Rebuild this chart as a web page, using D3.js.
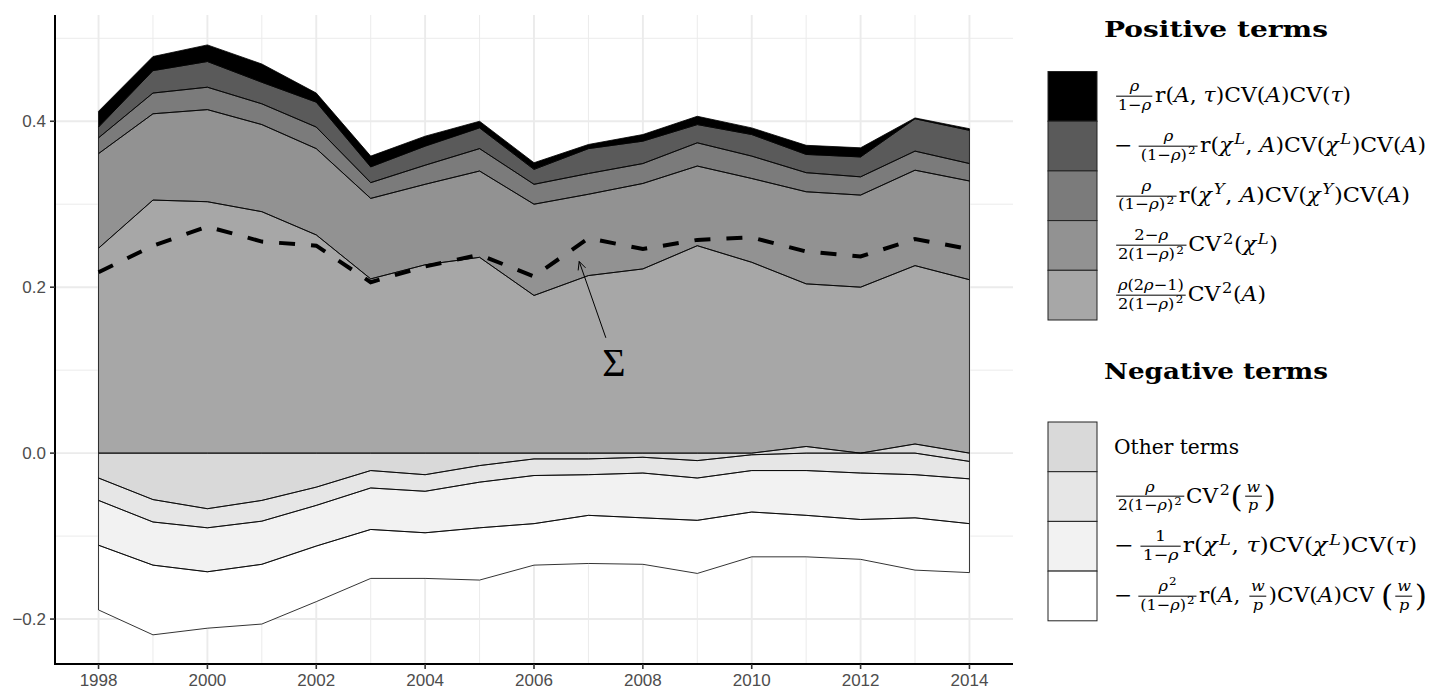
<!DOCTYPE html>
<html>
<head>
<meta charset="utf-8">
<script src="https://cdn.jsdelivr.net/npm/d3@7"></script>
<style>
  body { margin: 0; background: #fff; }
  #wrap { position: relative; width: 1430px; height: 690px; overflow: hidden; background: #fff; }
  #wrap svg { position: absolute; left: 0; top: 0; }
  .lab {
    position: absolute; white-space: nowrap; color: #000;
    font-family: "DejaVu Serif", serif; font-size: 20.5px;
    line-height: 1; transform-origin: 0 50%;
  }
  .lab i { font-style: italic; }
  .fr {
    display: inline-flex; flex-direction: column; align-items: stretch; text-align: center;
    vertical-align: middle; font-size: 0.74em; margin: 0 0.14em;
  }
  .fr .nu { border-bottom: 1px solid #000; padding: 0 0.1em 0.06em; line-height: 1.05; }
  .fr .de { padding: 0.06em 0.1em 0; line-height: 1.05; }
  .lab sup { font-size: 0.74em; vertical-align: 0.5em; line-height: 0; margin-left: 0.1em; margin-right: 0.04em; }
  .bp { font-size: 1.45em; vertical-align: -0.14em; line-height: 0; }
  .mn { margin-right: 0.2em; }
</style>
</head>
<body>
<div id="wrap"></div>
<script>
// ---- data -------------------------------------------------------------
const years = [1998, 1999, 2000, 2001, 2002, 2003, 2004, 2005, 2006,
               2007, 2008, 2009, 2010, 2011, 2012, 2013, 2014];

// positive terms
const rATau  = [0.019, 0.017, 0.020, 0.022, 0.011, 0.013, 0.012, 0.008, 0.008,
                0.005, 0.008, 0.010, 0.008, 0.011, 0.011, 0.001, 0.002];
const rChiLA = [0.013, 0.027, 0.031, 0.026, 0.030, 0.019, 0.023, 0.025, 0.018,
                0.030, 0.027, 0.022, 0.026, 0.022, 0.024, 0.039, 0.040];
const rChiYA = [0.019, 0.025, 0.027, 0.025, 0.026, 0.019, 0.023, 0.027, 0.024,
                0.025, 0.024, 0.028, 0.027, 0.023, 0.022, 0.023, 0.021];
const cvChiL = [0.114, 0.104, 0.111, 0.105, 0.104, 0.097, 0.097, 0.104, 0.110,
                0.098, 0.103, 0.096, 0.101, 0.111, 0.111, 0.115, 0.119];
const cvA    = [0.247, 0.305, 0.303, 0.291, 0.263, 0.210, 0.227, 0.236, 0.190,
                0.214, 0.222, 0.250, 0.230, 0.196, 0.200, 0.215, 0.209];

// negative terms
const other    = [-0.030, -0.056, -0.067, -0.057, -0.041, -0.021, -0.026, -0.015, -0.007,
                  -0.007, -0.005, -0.009, -0.002, 0.008, 0.000, 0.011, -0.010];
const cvW      = [-0.027, -0.027, -0.023, -0.025, -0.022, -0.021, -0.020, -0.020, -0.020,
                  -0.019, -0.019, -0.021, -0.019, -0.021, -0.024, -0.026, -0.021];
const rChiLTau = [-0.054, -0.052, -0.053, -0.052, -0.049, -0.050, -0.050, -0.055, -0.058,
                  -0.049, -0.054, -0.051, -0.050, -0.054, -0.056, -0.052, -0.054];
const rAW      = [-0.078, -0.084, -0.068, -0.072, -0.067, -0.059, -0.055, -0.063, -0.050,
                  -0.058, -0.056, -0.064, -0.054, -0.050, -0.048, -0.063, -0.059];

// total (dashed line)
const sigma = [0.218, 0.250, 0.273, 0.255, 0.250, 0.206, 0.225, 0.239, 0.213,
               0.259, 0.246, 0.257, 0.260, 0.243, 0.237, 0.258, 0.246];

// axes
const xTicks = [1998, 2000, 2002, 2004, 2006, 2008, 2010, 2012, 2014];
const xMinor = [1999, 2001, 2003, 2005, 2007, 2009, 2011, 2013];
const yTicks = [-0.2, 0.0, 0.2, 0.4];
const yMinor = [-0.1, 0.1, 0.3, 0.5];
const yTickLabels = ["\u22120.2", "0.0", "0.2", "0.4"];

// annotation: Σ label and its arrow (data units)
const sigmaLabel = { year: 2007.47, value: 0.109 };
const sigmaArrow = { fromYear: 2007.32, fromValue: 0.139, toYear: 2006.83, toValue: 0.231 };

// ---- legend labels ----------------------------------------------------
const F = (n, d) => `<span class="fr"><span class="nu">${n}</span><span class="de">${d}</span></span>`;
const I = s => `<i>${s}</i>`;
const S = s => `<sup>${s}</sup>`;
const rho = I("ρ"), tau = I("τ"), A = I("A");
const chiL = I("χ") + S(I("L")), chiY = I("χ") + S(I("Y"));
const wp = F(I("w"), I("p"));
const oneMinusRho = `1−${rho}`, oneMinusRhoSq = `(1−${rho})${S("2")}`;
const minus = `<span class="mn">−</span>`;

const posKeys = ["rATau", "rChiLA", "rChiYA", "cvChiL", "cvA"];
const posFills = ["#000000", "#5a5a5a", "#7b7b7b", "#929292", "#a7a7a7"];
const posLabels = [
  `${F(rho, oneMinusRho)}r(${A}, ${tau})CV(${A})CV(${tau})`,
  `${minus}${F(rho, oneMinusRhoSq)}r(${chiL}, ${A})CV(${chiL})CV(${A})`,
  `${F(rho, oneMinusRhoSq)}r(${chiY}, ${A})CV(${chiY})CV(${A})`,
  `${F(`2−${rho}`, `2${oneMinusRhoSq}`)}CV${S("2")}(${chiL})`,
  `${F(`${rho}(2${rho}−1)`, `2${oneMinusRhoSq}`)}CV${S("2")}(${A})`
];
const negKeys = ["other", "cvW", "rChiLTau", "rAW"];
const negFills = ["#d9d9d9", "#e6e6e6", "#f2f2f2", "#ffffff"];
const negLabels = [
  `Other terms`,
  `${F(rho, `2${oneMinusRhoSq}`)}CV${S("2")}<span class="bp">(</span>${wp}<span class="bp">)</span>`,
  `${minus}${F("1", oneMinusRho)}r(${chiL}, ${tau})CV(${chiL})CV(${tau})`,
  `${minus}${F(`${rho}${S("2")}`, oneMinusRhoSq)}r(${A}, ${wp})CV(${A})CV <span class="bp">(</span>${wp}<span class="bp">)</span>`
];

// ---- layout -----------------------------------------------------------
const W = 1430, H = 690;
const panel = { left: 55, right: 1013, top: 15, bottom: 664 };
// rendered widths of the legend labels, in px
const posLabelWidths = [237, 312, 296, 164, 152];
const negLabelWidths = [125, 162, 305, 313];

const wrap = d3.select("#wrap");
const svg = wrap.append("svg").attr("width", W).attr("height", H);

const yMin = -0.2186, yMax = 0.4925, yPad = (yMax - yMin) * 0.05;
const x = d3.scaleLinear().domain([1998 - 0.8, 2014 + 0.8]).range([panel.left, panel.right]);
const y = d3.scaleLinear().domain([yMin - yPad, yMax + yPad]).range([panel.bottom, panel.top]);

// grid
const grid = svg.append("g");
grid.selectAll(".gy-minor").data(yMinor).join("line")
  .attr("x1", panel.left).attr("x2", panel.right)
  .attr("y1", d => y(d)).attr("y2", d => y(d))
  .attr("stroke", "#ebebeb").attr("stroke-width", 1);
grid.selectAll(".gx-minor").data(xMinor).join("line")
  .attr("y1", panel.top).attr("y2", panel.bottom)
  .attr("x1", d => x(d)).attr("x2", d => x(d))
  .attr("stroke", "#ebebeb").attr("stroke-width", 1);
grid.selectAll(".gy").data(yTicks).join("line")
  .attr("x1", panel.left).attr("x2", panel.right)
  .attr("y1", d => y(d)).attr("y2", d => y(d))
  .attr("stroke", "#ebebeb").attr("stroke-width", 1.9);
grid.selectAll(".gx").data(xTicks).join("line")
  .attr("y1", panel.top).attr("y2", panel.bottom)
  .attr("x1", d => x(d)).attr("x2", d => x(d))
  .attr("stroke", "#ebebeb").attr("stroke-width", 1.9);

// stacked areas (positives up, negatives down from zero)
const table = years.map((yr, i) => ({
  year: yr, other: other[i], cvA: cvA[i], cvChiL: cvChiL[i], rChiYA: rChiYA[i],
  rChiLA: rChiLA[i], rATau: rATau[i], cvW: cvW[i], rChiLTau: rChiLTau[i], rAW: rAW[i]
}));
const stackKeys = ["other", "cvA", "cvChiL", "rChiYA", "rChiLA", "rATau", "cvW", "rChiLTau", "rAW"];
const fillOf = {};
posKeys.forEach((k, i) => fillOf[k] = posFills[i]);
negKeys.forEach((k, i) => fillOf[k] = negFills[i]);

const layers = d3.stack().keys(stackKeys)
  .order(d3.stackOrderNone).offset(d3.stackOffsetDiverging)(table);

const area = d3.area()
  .x(d => x(d.data.year)).y0(d => y(d[0])).y1(d => y(d[1]));

const areas = svg.append("g");
areas.selectAll(".fill").data(layers).join("path")
  .attr("d", area).attr("fill", d => fillOf[d.key]).attr("stroke", "none");
areas.selectAll(".edge").data(layers).join("path")
  .attr("d", area).attr("fill", "none")
  .attr("stroke", "#000").attr("stroke-width", 0.8).attr("stroke-linejoin", "round");

// dashed total
const line = d3.line().x((d, i) => x(years[i])).y(d => y(d));
svg.append("path").attr("d", line(sigma))
  .attr("fill", "none").attr("stroke", "#000").attr("stroke-width", 4)
  .attr("stroke-dasharray", "16 16");

// annotation arrow and Σ
const ax1 = x(sigmaArrow.fromYear), ay1 = y(sigmaArrow.fromValue);
const ax2 = x(sigmaArrow.toYear), ay2 = y(sigmaArrow.toValue);
svg.append("line").attr("x1", ax1).attr("y1", ay1).attr("x2", ax2).attr("y2", ay2)
  .attr("stroke", "#000").attr("stroke-width", 1);
const ang = Math.atan2(ay2 - ay1, ax2 - ax1), head = 9, spread = Math.PI / 7;
svg.append("path")
  .attr("d", `M${ax2 - head * Math.cos(ang - spread)},${ay2 - head * Math.sin(ang - spread)}` +
             `L${ax2},${ay2}` +
             `L${ax2 - head * Math.cos(ang + spread)},${ay2 - head * Math.sin(ang + spread)}`)
  .attr("fill", "none").attr("stroke", "#000").attr("stroke-width", 1);
svg.append("text").attr("x", x(sigmaLabel.year)).attr("y", y(sigmaLabel.value))
  .attr("text-anchor", "middle").attr("dominant-baseline", "central")
  .attr("font-family", "Liberation Serif, serif").attr("font-size", 40)
  .text("Σ");

// axes
const axes = svg.append("g");
axes.append("line").attr("x1", panel.left).attr("x2", panel.left)
  .attr("y1", panel.top).attr("y2", panel.bottom + 1)
  .attr("stroke", "#000").attr("stroke-width", 2);
axes.append("line").attr("x1", panel.left - 1).attr("x2", panel.right)
  .attr("y1", panel.bottom).attr("y2", panel.bottom)
  .attr("stroke", "#000").attr("stroke-width", 2);
axes.selectAll(".ty").data(yTicks).join("line")
  .attr("x1", panel.left - 5).attr("x2", panel.left)
  .attr("y1", d => y(d)).attr("y2", d => y(d))
  .attr("stroke", "#333").attr("stroke-width", 1.6);
axes.selectAll(".tx").data(xTicks).join("line")
  .attr("y1", panel.bottom).attr("y2", panel.bottom + 5)
  .attr("x1", d => x(d)).attr("x2", d => x(d))
  .attr("stroke", "#333").attr("stroke-width", 1.6);
axes.selectAll(".ly").data(yTicks).join("text")
  .attr("x", panel.left - 9).attr("y", d => y(d))
  .attr("text-anchor", "end").attr("dominant-baseline", "central")
  .attr("font-family", "Liberation Sans, Arial, sans-serif").attr("font-size", 17)
  .attr("fill", "#4d4d4d")
  .text((d, i) => yTickLabels[i]);
axes.selectAll(".lx").data(xTicks).join("text")
  .attr("x", d => x(d)).attr("y", panel.bottom + 22)
  .attr("text-anchor", "middle")
  .attr("font-family", "Liberation Sans, Arial, sans-serif").attr("font-size", 17)
  .attr("fill", "#4d4d4d")
  .text(d => d);

// legends
const keyX = 1048, keyW = 49, keyH = 49.7, labX = 1114;
function legend(title, titleY, top, keys, fills, labels, widths) {
  svg.append("text").attr("x", 1216).attr("y", titleY)
    .attr("text-anchor", "middle")
    .attr("font-family", "DejaVu Serif, serif").attr("font-weight", "bold")
    .attr("font-size", 23).attr("textLength", 224).attr("lengthAdjust", "spacingAndGlyphs")
    .text(title);
  keys.forEach((k, i) => {
    svg.append("rect")
      .attr("x", keyX).attr("y", top + i * keyH)
      .attr("width", keyW).attr("height", keyH)
      .attr("fill", fills[i]).attr("stroke", "#222").attr("stroke-width", 1);
    const lab = wrap.append("div").attr("class", "lab")
      .style("left", labX + "px").style("top", (top + (i + 0.5) * keyH) + "px")
      .html(labels[i]);
    const natural = lab.node().getBoundingClientRect().width;
    const sx = Math.max(0.9, Math.min(1.15, widths[i] / natural));
    lab.style("transform", `translateY(-50%) scaleX(${sx})`);
  });
}
legend("Positive terms", 37, 71.5, posKeys, posFills, posLabels, posLabelWidths);
legend("Negative terms", 379, 422, negKeys, negFills, negLabels, negLabelWidths);
</script>
</body>
</html>
